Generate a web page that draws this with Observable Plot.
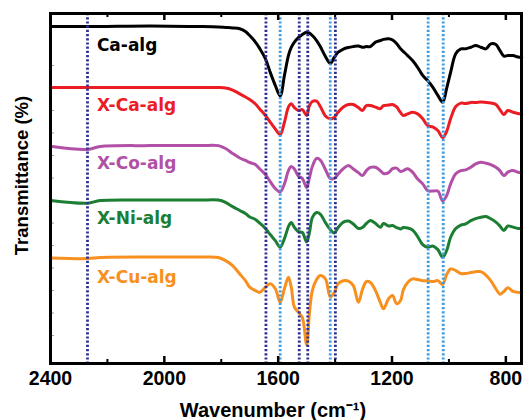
<!DOCTYPE html>
<html><head><meta charset="utf-8">
<script src="https://cdn.jsdelivr.net/npm/d3@7"></script>
<script src="https://cdn.jsdelivr.net/npm/@observablehq/plot@0.6"></script>
<style>body{margin:0;background:#fff} #chart{width:527px;height:420px}</style>
</head><body><div id="chart"></div>
<script>
const wavenumbers = [2400,2270,2225,2050,1875,1810,1785,1760,1735,1715,1700,1680,1665,1645,1628,1610,1593,1578,1564,1554,1543,1529,1515,1500,1490,1480,1465,1452,1434,1417,1403,1389,1371,1353,1336,1318,1304,1290,1276,1258,1241,1230,1212,1198,1184,1170,1160,1145,1128,1110,1092,1075,1057,1039,1022,1008,994,976,958,941,923,906,888,870,853,835,821,807,793,775,758,744];
const caAlg = [147.3,147.3,147.3,147.6,147.3,147.1,146.9,146.7,146.3,145.1,143.3,140.4,137.6,133.1,127.0,121.1,116.5,125.6,134.4,138.0,140.4,142.4,143.8,144.8,144.4,143.3,141.1,138.4,134.0,130.9,133.6,135.9,137.3,138.0,138.4,138.7,138.1,138.4,138.4,140.4,141.1,141.6,141.9,141.3,139.8,137.4,136.2,134.4,132.2,129.2,125.6,123.3,120.4,116.7,113.7,119.8,127.0,135.2,137.4,137.4,138.1,138.9,138.1,137.4,139.6,139.3,136.7,134.2,134.4,134.4,133.8,133.6];
const xCaAlg = [120.2,120.2,120.2,120.2,120.2,120.2,120.0,119.1,117.4,116.0,114.9,112.9,110.7,107.8,104.8,101.8,99.3,104.8,111.5,113.0,111.3,110.0,110.4,107.8,112.2,114.0,114.2,111.8,107.6,106.3,106.9,109.3,111.6,112.7,112.7,111.3,110.0,112.2,112.2,111.5,110.8,112.2,112.4,112.7,111.6,109.1,107.8,108.5,109.2,108.5,106.3,103.3,102.7,101.1,98.0,100.7,106.4,111.8,113.3,113.1,113.6,113.6,113.8,113.6,113.3,112.7,110.4,108.2,110.0,109.2,108.7,108.4];
const xCoAlg = [94.1,92.7,94.0,94.4,94.4,94.4,93.1,90.9,88.9,87.8,86.9,86.0,84.1,81.6,78.4,75.3,73.8,77.4,83.3,85.1,84.0,80.9,79.8,75.8,80.2,85.1,88.7,88.0,83.8,79.8,79.8,81.8,84.2,85.6,84.0,82.4,81.1,83.3,84.7,84.8,83.3,82.0,82.4,84.2,84.4,82.9,83.3,84.1,82.6,79.6,77.4,74.4,74.2,74.2,69.8,72.2,77.4,81.9,83.3,83.6,84.8,86.3,87.0,86.6,86.0,84.8,83.3,81.1,82.6,83.3,82.6,82.4];
const xNiAlg = [70.0,68.8,70.0,70.2,70.2,70.2,69.2,67.3,65.6,64.2,62.7,61.6,60.0,57.6,54.9,52.2,49.3,53.1,58.4,60.2,58.1,56.2,55.8,51.6,55.8,62.4,64.7,64.0,60.2,57.1,55.6,58.1,60.4,60.9,59.6,57.6,58.0,59.8,61.1,59.8,58.1,59.8,58.7,58.9,58.0,57.4,58.0,57.8,56.9,54.0,50.4,49.2,49.8,48.2,44.8,47.8,53.7,57.6,59.1,59.6,61.1,62.0,62.6,62.9,61.9,60.4,58.7,56.7,58.7,58.2,57.6,57.6];
const xCuAlg = [44.5,44.2,44.7,44.9,44.9,44.7,43.3,41.1,37.4,34.4,31.5,30.0,29.2,31.5,33.0,30.8,24.8,30.9,35.9,31.5,22.6,20.4,18.0,6.0,20.2,30.0,34.9,36.7,35.2,27.3,29.1,33.1,34.4,34.2,32.2,24.8,30.4,34.0,33.6,30.0,24.7,21.9,26.4,27.8,24.2,25.6,30.4,33.6,35.2,34.9,34.4,34.4,34.0,34.4,32.7,37.1,39.6,38.9,37.6,37.6,38.0,38.4,38.4,36.9,34.4,30.8,28.4,29.6,31.3,29.6,29.2,29.2];
const seriesNames = ["Ca-alg","X-Ca-alg","X-Co-alg","X-Ni-alg","X-Cu-alg"];
const seriesColors = ["#000000","#EC1C24","#B150A6","#1B7E33","#F7901E"];
const labelWn = 2237;
const labelT = [138.9, 112.2, 86.3, 61.9, 35.9];
const darkBlueLines = [2270, 1643, 1526, 1496, 1399];
const lightBlueLines = [1593, 1417, 1073, 1020];
const majorTicks = [2400, 2000, 1600, 1200, 800];
const minorTicks = [2200, 1800, 1400, 1000];
const yTicks = [10,20,30,40,50,60,70,80,90,100,110,120,130];

const valuesBySeries = [caAlg, xCaAlg, xCoAlg, xNiAlg, xCuAlg];
const table = [];
seriesNames.forEach((name, s) => wavenumbers.forEach((w, i) => table.push({series: name, wn: w, t: valuesBySeries[s][i]})));
const labels = seriesNames.map((name, i) => ({series: name, wn: labelWn, t: labelT[i]}));

const plot = Plot.plot({
  width: 527, height: 420,
  marginTop: 13, marginBottom: 57, marginLeft: 50, marginRight: 6,
  style: {fontFamily: "'Liberation Sans', Arial, sans-serif", background: "#fff", color: "#000"},
  x: {domain: [2400, 745], axis: null},
  y: {domain: [-2.4, 153.1], axis: null},
  color: {domain: seriesNames, range: seriesColors},
  marks: [
    Plot.ruleY(yTicks, {stroke: "#999", strokeWidth: 1, insetRight: 467}),
    Plot.lineY(table, {x: "wn", y: "t", z: "series", stroke: "series", strokeWidth: 3, curve: "catmull-rom", strokeLinejoin: "round"}),
    Plot.ruleX(darkBlueLines, {x: d => d, stroke: "#2E3192", strokeWidth: 2.8, strokeDasharray: "2.2,2"}),
    Plot.ruleX(lightBlueLines, {x: d => d, stroke: "#3F9CDF", strokeWidth: 2.8, strokeDasharray: "2.2,2"}),
    Plot.text(labels, {x: "wn", y: "t", text: "series", fill: "series", textAnchor: "start", fontFamily: "'DejaVu Sans'", fontWeight: "bold", fontSize: 17}),
    Plot.ruleX(majorTicks, {x: d => d, stroke: "#000", strokeWidth: 2.5, insetTop: 343}),
    Plot.ruleX(majorTicks, {x: d => d, stroke: "#000", strokeWidth: 2.5, insetBottom: 343}),
    Plot.ruleX(minorTicks, {x: d => d, stroke: "#000", strokeWidth: 2, insetTop: 346}),
    Plot.ruleX(minorTicks, {x: d => d, stroke: "#000", strokeWidth: 2, insetBottom: 346}),
    Plot.axisX(majorTicks, {tickSize: 0, tickPadding: 8, fontSize: 19.5, fontWeight: "bold", label: null, tickFormat: d => String(d)}),
    Plot.frame({stroke: "#000", strokeWidth: 3}),
    Plot.text(["Wavenumber (cm⁻¹)"], {frameAnchor: "bottom", dx: -13, dy: 47, fontSize: 20, fontWeight: "bold", lineAnchor: "middle", textAnchor: "middle"}),
    Plot.text(["Transmittance (%)"], {frameAnchor: "left", rotate: -90, dx: -28, dy: -13, fontSize: 18.5, fontWeight: "bold", lineAnchor: "middle", textAnchor: "middle"})
  ]
});
document.getElementById("chart").appendChild(plot);
</script>
</body></html>
